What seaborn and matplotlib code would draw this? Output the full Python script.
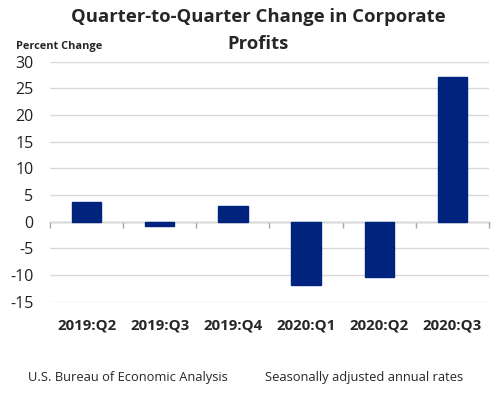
import matplotlib
matplotlib.use("Agg")
import matplotlib.pyplot as plt
import seaborn as sns
import pandas as pd

quarters = ["2019:Q2", "2019:Q3", "2019:Q4", "2020:Q1", "2020:Q2", "2020:Q3"]
pct_change = [3.7, -0.8, 2.9, -11.9, -10.3, 27.2]
y_ticks = [-15, -10, -5, 0, 5, 10, 15, 20, 25, 30]

sns.set_theme(style="white")
plt.rcParams['font.family'] = ['Open Sans', 'DejaVu Sans']

df = pd.DataFrame({"quarter": quarters, "value": pct_change})

fig = plt.figure(figsize=(5.02, 3.94), dpi=100)
ax = fig.add_axes([50/502, 1-301.7/394, (489-50)/502, (301.7-61.7)/394])

sns.barplot(data=df, x="quarter", y="value", color="#00247D", width=0.4,
            saturation=1, ax=ax, edgecolor="#00247D")

ax.set_ylim(-15, 30)
ax.set_xlim(-0.5, len(quarters) - 0.5)
ax.set_yticks(y_ticks)
ax.set_yticklabels([str(t) for t in y_ticks], fontsize=11.5)
ax.yaxis.grid(True, color="#D9D9D9", linewidth=1)
ax.set_axisbelow(True)
for s in ax.spines.values():
    s.set_visible(False)
ax.tick_params(axis="y", length=0, pad=12, labelcolor="#222222")
ax.tick_params(axis="x", length=0, pad=12)
ax.set_xticks(range(len(quarters)))
ax.set_xticklabels(quarters, fontsize=10.8, fontweight="bold")
ax.set_xlabel("")
ax.set_ylabel("")

# zero axis with category-boundary tick marks
sec = ax.secondary_xaxis(1/3)
sec.set_xticks([i - 0.5 for i in range(len(quarters) + 1)])
sec.set_xticklabels([])
sec.tick_params(axis="x", length=4, color="#A6A6A6", width=1)
sec.spines["bottom"].set_color("#A6A6A6")
sec.spines["bottom"].set_linewidth(1)

fig.text(258/502, 1-17/394, "Quarter-to-Quarter Change in Corporate", ha="center", va="center",
         fontsize=13.3, fontweight="bold")
fig.text(258/502, 1-44/394, "Profits", ha="center", va="center",
         fontsize=13.3, fontweight="bold")
fig.text(16/502, 1-46/394, "Percent Change", ha="left", va="center",
         fontsize=7.9, fontweight="bold")
fig.text(28/502, 1-378/394, "U.S. Bureau of Economic Analysis", ha="left", va="center",
         fontsize=9.3)
fig.text(265/502, 1-378/394, "Seasonally adjusted annual rates", ha="left", va="center",
         fontsize=9.3)

fig.savefig("out.png", dpi=100, facecolor="white")
